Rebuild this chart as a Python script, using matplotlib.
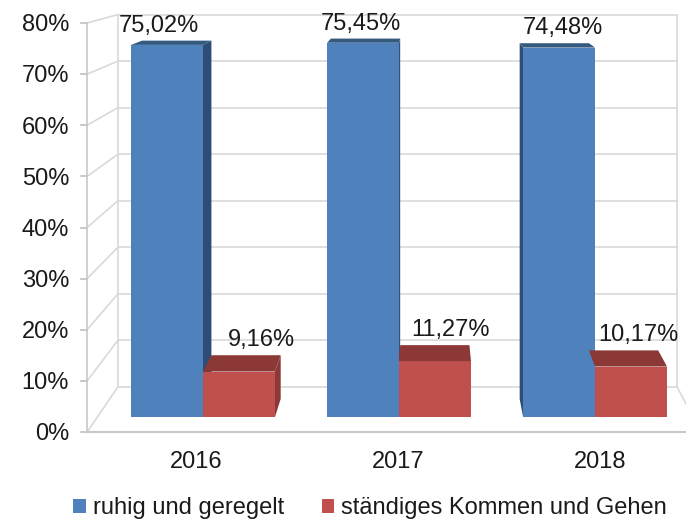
import numpy as np
import matplotlib
matplotlib.use('Agg')
import matplotlib.pyplot as plt

years = ['2016', '2017', '2018']
ruhig = [75.02, 75.45, 74.48]
kommen = [9.16, 11.27, 10.17]
series_names = ['ruhig und geregelt', 'ständiges Kommen und Gehen']
yticks = np.arange(0, 81, 10)

plt.rcParams['font.family'] = ['Liberation Sans', 'DejaVu Sans']
txt_c = '#1a1a1a'
fs = 17

# fake 3d: each depth plane is a scaled copy of the bar front plane,
# scaled around a vanishing point (cx, cy) given in data units
cx, cy = 1.158, 98.2
r_front, r_bar_back, r_wall = 1.031, 0.963, 0.938
wall_left, wall_right = -0.539, 2.501


def proj(u, v, r):
    return cx + (u - cx) * r, cy + (v - cy) * r


fig = plt.figure(figsize=(6.86, 5.21), dpi=100)
ax = fig.add_axes([0, 0, 1, 1])
ax.set_xlim(-1.0357, 2.464)
ax.set_ylim(-20.97, 84.07)
ax.axis('off')

# walls and grid
grid_c = '#d9d9d9'
for v in yticks:
    bx0, by0 = proj(wall_left, v, r_wall)
    bx1, by1 = proj(wall_right, v, r_wall)
    fx, fy = proj(wall_left, v, r_front)
    ax.plot([bx0, bx1], [by0, by1], color=grid_c, lw=1.2, zorder=1)
    ax.plot([fx, bx0], [fy, by0], color=grid_c, lw=1.2, zorder=1)
    # tick mark + label on the front axis
    ax.plot([fx - 0.03, fx], [fy, fy], color='#bfbfbf', lw=1.2, zorder=1)
    ax.annotate('{}%'.format(v), xy=(fx, fy), xytext=(-13, -6),
                textcoords='offset points', ha='right', va='baseline',
                fontsize=fs, color=txt_c)

for u in (wall_left, wall_right):
    p0 = proj(u, 0, r_wall)
    p1 = proj(u, yticks[-1], r_wall)
    ax.plot([p0[0], p1[0]], [p0[1], p1[1]], color=grid_c, lw=1.2, zorder=1)

# front axis line and floor
a0 = proj(wall_left, 0, r_front)
a1 = proj(wall_left, yticks[-1], r_front)
ax.plot([a0[0], a1[0]], [a0[1], a1[1]], color='#c8c8c8', lw=1.2, zorder=1)
f1 = proj(wall_right, 0, r_front)
ax.plot([a0[0], f1[0]], [a0[1], f1[1]], color='#c8c8c8', lw=1.5, zorder=1)
br = proj(wall_right, 0, r_wall)
ax.plot([br[0], f1[0]], [br[1], f1[1]], color=grid_c, lw=1.2, zorder=1)

# bars
x = np.arange(len(years))
w = 0.367
styles = [('#4f81bd', '#2c4d75', '#34597f'), ('#c0504d', '#8c3836', '#8c3836')]
containers = []
for k, (vals, pos) in enumerate([(ruhig, x - w / 2), (kommen, x + w / 2)]):
    front, side_c, top_c = styles[k]
    bc = ax.bar(pos, vals, w, color=front, zorder=3, label=series_names[k])
    containers.append(bc)
    for p, h in zip(pos, vals):
        x0, x1 = p - w / 2, p + w / 2
        xs = x1 if p < cx else x0
        side = [proj(xs, 0, 1), proj(xs, h, 1), proj(xs, h, r_bar_back), proj(xs, 0, r_bar_back)]
        ax.fill(*zip(*side), color=side_c, zorder=2, lw=0)
        top = [proj(x0, h, 1), proj(x1, h, 1), proj(x1, h, r_bar_back), proj(x0, h, r_bar_back)]
        ax.fill(*zip(*top), color=top_c, zorder=4, lw=0)
        # value label
        tx, ty = proj(p, h, r_bar_back)
        if k == 0:
            tx = proj(p, h, r_front)[0]
            dx = 0
        else:
            dx = 11
        ax.annotate('{:.2f}%'.format(h).replace('.', ','), xy=(tx, ty), xytext=(dx, 6.5),
                    textcoords='offset points', ha='center', va='baseline',
                    fontsize=fs, color=txt_c, zorder=5)

# category labels
for i, yr in enumerate(years):
    lx, ly = proj(i, 0, r_front)
    ax.annotate(yr, xy=(lx, ly), xytext=(0, -26), textcoords='offset points',
                ha='center', va='baseline', fontsize=fs, color=txt_c)

ax.legend(handles=containers, labels=series_names, loc='center',
          bbox_to_anchor=(370 / 686, 1 - 508 / 521), bbox_transform=fig.transFigure,
          ncol=2, frameon=False, fontsize=fs, handlelength=0.52, handleheight=0.52,
          handletextpad=0.3, columnspacing=1.6, borderaxespad=0, borderpad=0,
          labelcolor=txt_c)

fig.savefig('out.png', dpi=100)
